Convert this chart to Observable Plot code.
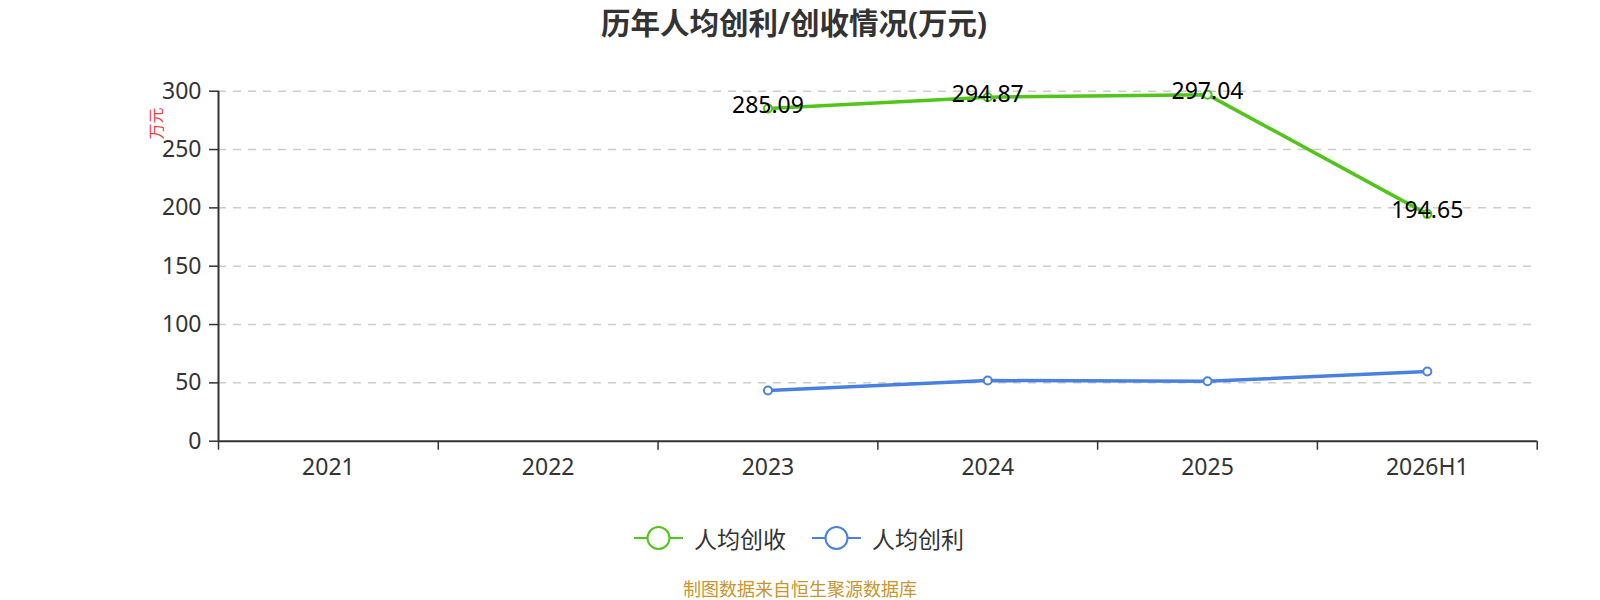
<!DOCTYPE html>
<html>
<head>
<meta charset="utf-8">
<script src="https://cdn.jsdelivr.net/npm/d3@7"></script>
<script src="https://cdn.jsdelivr.net/npm/@observablehq/plot@0.6"></script>
<style>
  html, body { margin: 0; padding: 0; background: #fff; }
  body { width: 1600px; height: 600px; position: relative; overflow: hidden;
         font-family: "Noto Sans", "Noto Sans CJK SC", sans-serif; }
  #title { position: absolute; left: 0; top: 0; width: 1588px; height: 46px; line-height: 46px;
           text-align: center; font-size: 29.5px; font-weight: bold; color: #333; }
  #chart { position: absolute; left: 0; top: 50px; }
  #legend { position: absolute; left: 0; top: 518px; width: 1600px; height: 40px; }
  .item { position: absolute; top: 0; height: 40px; display: flex; align-items: center;
          font-size: 23px; color: #333; }
  .item svg { margin-right: 11px; }
  #caption { position: absolute; left: 0; top: 576px; width: 1600px; text-align: center;
             font-size: 18px; line-height: 26px; color: #c8952f; }
</style>
</head>
<body>
<div id="title">历年人均创利/创收情况(万元)</div>
<div id="chart"></div>
<div id="legend"></div>
<div id="caption">制图数据来自恒生聚源数据库</div>
<script>
const categories = ["2021", "2022", "2023", "2024", "2025", "2026H1"];
const revenuePerCapita = [null, null, 285.09, 294.87, 297.04, 194.65]; // 人均创收
const profitPerCapita = [null, null, 43.5, 52.0, 51.4, 59.7];          // 人均创利
const yTicks = [0, 50, 100, 150, 200, 250, 300];
const seriesNames = ["人均创收", "人均创利"];
const colors = ["#52c41a", "#4a80e2"];

const rows = categories.map((c, i) => ({i, cat: c, revenue: revenuePerCapita[i], profit: profitPerCapita[i]}))
  .filter(d => d.revenue != null);

const font = '"Noto Sans", "Noto Sans CJK SC", sans-serif';

const chart = Plot.plot({
  width: 1600,
  height: 440,
  marginTop: 40.7,
  marginBottom: 49.3,
  marginLeft: 218,
  marginRight: 63.3,
  style: {fontFamily: font, fontSize: "23px", color: "#333", background: "transparent"},
  x: {domain: [-0.5, categories.length - 0.5]},
  y: {domain: [0, 300]},
  marks: [
    Plot.ruleY(yTicks.filter(t => t > 0), {stroke: "#cccccc", strokeWidth: 1.5, strokeDasharray: "8,7"}),
    Plot.ruleX([-0.5], {stroke: "#333", strokeWidth: 2}),
    Plot.ruleY([0], {stroke: "#333", strokeWidth: 2}),
    Plot.axisY({ticks: yTicks, tickSize: 9, tickPadding: 8, label: null, stroke: "#333", strokeWidth: 1.5, fontSize: 23}),
    Plot.axisX({ticks: d3.range(-0.5, categories.length, 1), tickFormat: () => "", tickSize: 9, label: null, stroke: "#333", strokeWidth: 1.5}),
    Plot.axisX({ticks: d3.range(0, categories.length), tickFormat: i => categories[i], tickSize: 0, tickPadding: 17, label: null, fontSize: 23}),
    Plot.text(["万元"], {frameAnchor: "top-left", dx: -61.3, dy: 32.3, rotate: -90, fill: "#f23c3c", fontSize: 16, textAnchor: "middle", lineAnchor: "middle"}),
    Plot.line(rows, {x: "i", y: "revenue", stroke: colors[0], strokeWidth: 3.5}),
    Plot.line(rows, {x: "i", y: "profit", stroke: colors[1], strokeWidth: 3.5}),
    Plot.dot(rows, {x: "i", y: "revenue", r: 4, fill: "#fff", stroke: colors[0], strokeWidth: 2}),
    Plot.dot(rows, {x: "i", y: "profit", r: 4, fill: "#fff", stroke: colors[1], strokeWidth: 2}),
    Plot.text(rows, {x: "i", y: "revenue", text: d => d.revenue.toFixed(2), fill: "#000", fontSize: 23, dy: -3, lineAnchor: "middle", textAnchor: "middle"})
  ]
});
document.getElementById("chart").appendChild(chart);

const legend = document.getElementById("legend");
const lefts = [634, 812];
seriesNames.forEach((name, k) => {
  const item = document.createElement("div");
  item.className = "item";
  item.style.left = lefts[k] + "px";
  item.innerHTML = `<svg width="49" height="30" viewBox="0 0 49 30">
      <line x1="0" y1="15" x2="49" y2="15" stroke="${colors[k]}" stroke-width="2"/>
      <circle cx="24.5" cy="15" r="11" fill="#fff" stroke="${colors[k]}" stroke-width="2"/>
    </svg><span>${name}</span>`;
  legend.appendChild(item);
});
</script>
</body>
</html>
